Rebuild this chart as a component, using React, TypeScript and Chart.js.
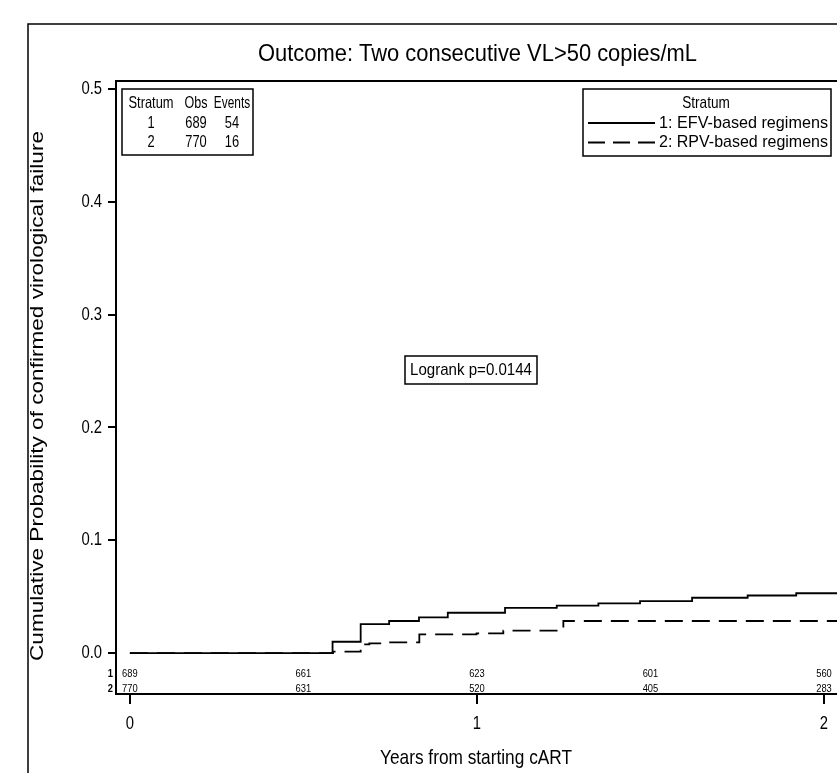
import React, { useEffect, useRef } from "react";
import { Chart, registerables } from "chart.js";

Chart.register(...registerables);

// ---------- data ----------
const efvTimes = [0, 0.584, 0.665, 0.747, 0.833, 0.916, 1.081, 1.23, 1.35, 1.47, 1.62, 1.78, 1.92, 2.04];
const efvCum = [0, 0.010, 0.0257, 0.0284, 0.0316, 0.0357, 0.040, 0.042, 0.044, 0.046, 0.049, 0.051, 0.053, 0.053];

const rpvTimes = [0, 0.585, 0.665, 0.69, 0.75, 0.834, 0.999, 1.076, 1.249, 2.04];
const rpvCum = [0, 0.0012, 0.0077, 0.0086, 0.0095, 0.0166, 0.0175, 0.0198, 0.0284, 0.0284];

const riskTimes = [0, 0.5, 1, 1.5, 2];
const riskEFV = [689, 661, 623, 601, 560];
const riskRPV = [770, 631, 520, 405, 283];

const strata = ["1", "2"];
const obsCounts = [689, 770];
const eventCounts = [54, 16];
const legendLabels = ["1: EFV-based regimens", "2: RPV-based regimens"];

const yTicks = [0, 0.1, 0.2, 0.3, 0.4, 0.5];
const xTicks = [0, 1, 2];

const titleText = "Outcome: Two consecutive VL>50 copies/mL";
const xTitle = "Years from starting cART";
const yTitle = "Cumulative Probability of confirmed virological failure";
const logrankText = "Logrank p=0.0144";

const FONT = '"Liberation Sans", Arial, sans-serif';

type TOpts = { size: number; width?: number; sx?: number; align?: CanvasTextAlign; bold?: boolean };

function txt(ctx: CanvasRenderingContext2D, s: string, x: number, y: number, o: TOpts) {
  ctx.save();
  ctx.font = `${o.bold ? "bold " : ""}${o.size}px ${FONT}`;
  ctx.textBaseline = "middle";
  ctx.textAlign = o.align || "left";
  ctx.fillStyle = "#000";
  const w = ctx.measureText(s).width;
  const sx = o.width ? o.width / w : o.sx ?? 0.82;
  ctx.translate(x, y);
  ctx.scale(sx, 1);
  ctx.fillText(s, 0, 0);
  ctx.restore();
}

function vtxt(ctx: CanvasRenderingContext2D, s: string, x: number, y: number, size: number, length: number, hScale: number) {
  ctx.save();
  ctx.font = `${size}px ${FONT}`;
  ctx.textBaseline = "middle";
  ctx.textAlign = "center";
  ctx.fillStyle = "#000";
  const w = ctx.measureText(s).width;
  ctx.translate(x, y);
  ctx.rotate(-Math.PI / 2);
  ctx.scale(length / w, hScale);
  ctx.fillText(s, 0, 0);
  ctx.restore();
}

const decor = {
  id: "decor",
  afterDraw(chart: any) {
    const ctx: CanvasRenderingContext2D = chart.ctx;
    const xs = chart.scales.x;
    const ys = chart.scales.y;
    const area = chart.chartArea;
    ctx.save();
    ctx.strokeStyle = "#000";
    // outer frame
    ctx.lineWidth = 1.5;
    ctx.beginPath();
    ctx.moveTo(28, 800);
    ctx.lineTo(28, 24);
    ctx.lineTo(900, 24);
    ctx.stroke();
    // plot top border
    ctx.lineWidth = 2;
    ctx.beginPath();
    ctx.moveTo(area.left - 1, area.top);
    ctx.lineTo(area.right + 5, area.top);
    ctx.stroke();

    // title
    txt(ctx, titleText, 477.5, 54, { size: 24, width: 439, align: "center" });
    // axis titles
    txt(ctx, xTitle, 476, 758, { size: 21, width: 192, align: "center" });
    vtxt(ctx, yTitle, 38, 396, 20, 530, 0.88);

    // y tick labels
    yTicks.forEach((v) => {
      txt(ctx, v.toFixed(1), 102, ys.getPixelForValue(v), { size: 19, sx: 0.78, align: "right" });
    });
    // x tick labels
    xTicks.forEach((v) => {
      txt(ctx, String(v), xs.getPixelForValue(v), 724, { size: 19, sx: 0.78, align: "center" });
    });

    // at-risk table
    const rowY = [674, 689];
    [riskEFV, riskRPV].forEach((row, r) => {
      txt(ctx, strata[r], 113, rowY[r], { size: 11, sx: 0.85, align: "right", bold: true });
      row.forEach((n, i) => {
        txt(ctx, String(n), xs.getPixelForValue(riskTimes[i]), rowY[r], { size: 11, sx: 0.85, align: "center" });
      });
    });

    // left summary box
    ctx.lineWidth = 1.5;
    ctx.strokeRect(122, 89, 131, 66);
    const cols = [151, 196, 232];
    txt(ctx, "Stratum", cols[0], 103, { size: 16.5, sx: 0.78, align: "center" });
    txt(ctx, "Obs", cols[1], 103, { size: 16.5, sx: 0.76, align: "center" });
    txt(ctx, "Events", cols[2], 103, { size: 16.5, sx: 0.72, align: "center" });
    strata.forEach((s, i) => {
      const yy = 123 + i * 19.5;
      txt(ctx, s, cols[0], yy, { size: 16.5, sx: 0.78, align: "center" });
      txt(ctx, String(obsCounts[i]), cols[1], yy, { size: 16.5, sx: 0.78, align: "center" });
      txt(ctx, String(eventCounts[i]), cols[2], yy, { size: 16.5, sx: 0.78, align: "center" });
    });

    // right legend box
    ctx.strokeRect(583, 89, 248, 67);
    txt(ctx, "Stratum", 706, 103, { size: 17, sx: 0.8, align: "center" });
    const dashes = [[], [17, 8]];
    legendLabels.forEach((l, i) => {
      const yy = 123 + i * 19.5;
      ctx.save();
      ctx.lineWidth = 1.8;
      ctx.setLineDash(dashes[i]);
      ctx.beginPath();
      ctx.moveTo(588, yy);
      ctx.lineTo(655, yy);
      ctx.stroke();
      ctx.restore();
      txt(ctx, l, 659, yy, { size: 17, width: 169, align: "left" });
    });

    // logrank box
    ctx.lineWidth = 1.5;
    ctx.strokeRect(405, 356, 132, 28);
    txt(ctx, logrankText, 471, 370, { size: 17, width: 122, align: "center" });

    ctx.restore();
  },
};

export default function App() {
  const ref = useRef<HTMLCanvasElement | null>(null);
  useEffect(() => {
    if (!ref.current) return;
    const chart = new Chart(ref.current, {
      type: "line",
      data: {
        datasets: [
          {
            label: legendLabels[0],
            data: efvTimes.map((t, i) => ({ x: t, y: efvCum[i] })),
            stepped: "before",
            borderColor: "#000",
            borderWidth: 1.8,
            pointRadius: 0,
            fill: false,
          },
          {
            label: legendLabels[1],
            data: rpvTimes.map((t, i) => ({ x: t, y: rpvCum[i] })),
            stepped: "before",
            borderColor: "#000",
            borderWidth: 1.8,
            borderDash: [18, 9],
            pointRadius: 0,
            fill: false,
          },
        ],
      },
      options: {
        animation: false,
        responsive: false,
        events: [],
        layout: { padding: { top: 81, left: 0, right: 0, bottom: 0 } },
        plugins: { legend: { display: false }, tooltip: { enabled: false }, title: { display: false } },
        scales: {
          x: {
            type: "linear",
            min: -0.04,
            max: 2.0375,
            afterBuildTicks: (s: any) => {
              s.ticks = xTicks.map((v) => ({ value: v }));
            },
            afterFit: (s: any) => {
              s.height = 79;
            },
            grid: { drawOnChartArea: false, drawTicks: true, tickLength: 10, color: "#000", lineWidth: 2 },
            border: { display: true, color: "#000", width: 2 },
            ticks: { display: false },
          },
          y: {
            type: "linear",
            min: -0.0363,
            max: 0.507,
            afterBuildTicks: (s: any) => {
              s.ticks = yTicks.map((v) => ({ value: v }));
            },
            afterFit: (s: any) => {
              s.width = 116;
            },
            grid: { drawOnChartArea: false, drawTicks: true, tickLength: 8, color: "#000", lineWidth: 2 },
            border: { display: true, color: "#000", width: 2 },
            ticks: { display: false },
          },
        },
      },
      plugins: [decor],
    });
    return () => chart.destroy();
  }, []);
  return (
    <div style={{ position: "fixed", left: 0, top: 0, width: 837, height: 773, background: "#fff" }}>
      <canvas ref={ref} width={837} height={773} style={{ display: "block" }} />
    </div>
  );
}
